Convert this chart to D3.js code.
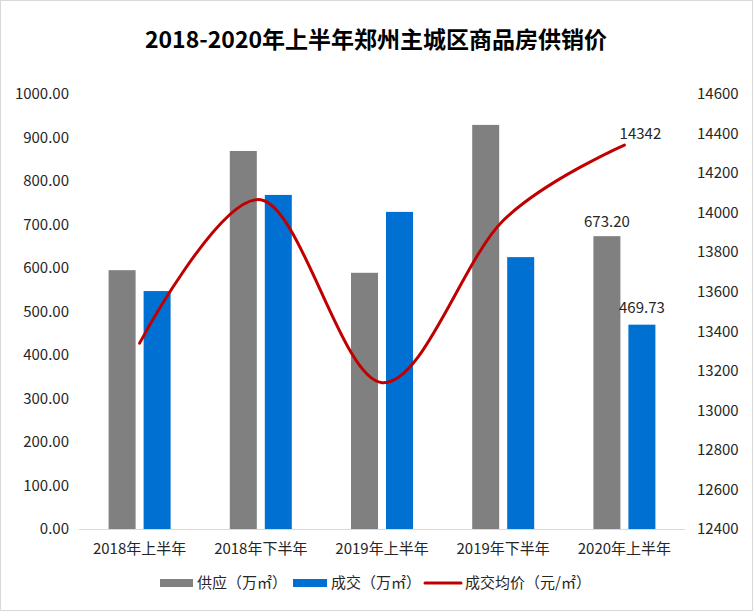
<!DOCTYPE html>
<html><head><meta charset="utf-8">
<script src="https://cdn.jsdelivr.net/npm/d3@7"></script>
<style>body{margin:0;background:#fff}svg{display:block}</style>
</head><body>
<script>
const categories = ["2018年上半年","2018年下半年","2019年上半年","2019年下半年","2020年上半年"];
const supply = [595, 869, 589, 929, 673.20];
const deals = [547, 768, 729, 625, 469.73];
const price = [13340, 14065, 13140, 13960, 14342];
const leftTicks = [0,100,200,300,400,500,600,700,800,900,1000];
const rightTicks = [12400,12600,12800,13000,13200,13400,13600,13800,14000,14200,14400,14600];
const seriesNames = ["供应（万㎡）","成交（万㎡）","成交均价（元/㎡）"];
const title = "2018-2020年上半年郑州主城区商品房供销价";

const W=753,H=611;
const font = "'Noto Sans CJK SC','Noto Sans',sans-serif";
const fs = 15;
const svg = d3.select("body").append("svg").attr("width",W).attr("height",H);
svg.append("rect").attr("x",0.5).attr("y",0.5).attr("width",W-1).attr("height",H-1).attr("fill","#fff").attr("stroke","#d9d9d9");

const m={l:79,r:685,t:94,b:529};
const x = d3.scaleBand().domain(categories).range([m.l,m.r]);
const yL = d3.scaleLinear().domain([0,1000]).range([m.b,m.t]);
const yR = d3.scaleLinear().domain([12400,14600]).range([m.b,m.t]);
const barW=27, gap=8;

svg.append("text").attr("x",376).attr("y",48).attr("text-anchor","middle")
  .attr("font-family",font).attr("font-weight","bold").attr("font-size",23).attr("fill","#000").text(title);

svg.append("g").selectAll("text").data(leftTicks).join("text")
  .attr("x",69).attr("y",d=>yL(d)).attr("dy","0.35em").attr("text-anchor","end")
  .attr("font-family",font).attr("font-size",fs).attr("fill","#262626").text(d=>d.toFixed(2));
svg.append("g").selectAll("text").data(rightTicks).join("text")
  .attr("x",697).attr("y",d=>yR(d)).attr("dy","0.35em").attr("text-anchor","start")
  .attr("font-family",font).attr("font-size",fs).attr("fill","#262626").text(d=>d);

const cx = c => x(c)+x.bandwidth()/2;
svg.append("g").selectAll("rect").data(supply).join("rect")
  .attr("x",(d,i)=>cx(categories[i])-gap/2-barW).attr("width",barW)
  .attr("y",d=>yL(d)).attr("height",d=>yL(0)-yL(d)).attr("fill","#808080");
svg.append("g").selectAll("rect").data(deals).join("rect")
  .attr("x",(d,i)=>cx(categories[i])+gap/2).attr("width",barW)
  .attr("y",d=>yL(d)).attr("height",d=>yL(0)-yL(d)).attr("fill","#0070D2");

svg.append("line").attr("x1",m.l).attr("x2",m.r).attr("y1",m.b+0.5).attr("y2",m.b+0.5).attr("stroke","#d9d9d9").attr("stroke-width",1);

svg.append("g").selectAll("text").data(categories).join("text")
  .attr("x",d=>cx(d)).attr("y",549).attr("dy","0.35em").attr("text-anchor","middle")
  .attr("font-family",font).attr("font-size",fs).attr("fill","#262626").text(d=>d);

const line = d3.line().x((d,i)=>cx(categories[i])).y(d=>yR(d)).curve(d3.curveCatmullRom.alpha(0));
svg.append("path").datum(price).attr("d",line).attr("fill","none").attr("stroke","#C00000").attr("stroke-width",3).attr("stroke-linecap","round");

const n=categories.length-1;
svg.append("text").attr("x",cx(categories[n])-gap/2-barW/2).attr("y",yL(supply[n])-9)
  .attr("text-anchor","middle").attr("font-family",font).attr("font-size",fs).attr("fill","#262626").text(supply[n].toFixed(2));
svg.append("text").attr("x",cx(categories[n])+gap/2+barW/2).attr("y",yL(deals[n])-12)
  .attr("text-anchor","middle").attr("font-family",font).attr("font-size",fs).attr("fill","#262626").text(deals[n].toFixed(2));
svg.append("text").attr("x",cx(categories[n])+16).attr("y",yR(price[n])-6)
  .attr("text-anchor","middle").attr("font-family",font).attr("font-size",fs).attr("fill","#262626").text(price[n]);

const lg = svg.append("g").attr("font-family",font).attr("font-size",fs).attr("fill","#262626");
const ly=583;
lg.append("rect").attr("x",160).attr("y",ly-4).attr("width",33).attr("height",8).attr("fill","#808080");
lg.append("text").attr("x",197).attr("y",ly).attr("dy","0.35em").text(seriesNames[0]);
lg.append("rect").attr("x",293).attr("y",ly-4).attr("width",34).attr("height",8).attr("fill","#0070D2");
lg.append("text").attr("x",331).attr("y",ly).attr("dy","0.35em").text(seriesNames[1]);
lg.append("line").attr("x1",425).attr("x2",461).attr("y1",ly).attr("y2",ly).attr("stroke","#C00000").attr("stroke-width",3).attr("stroke-linecap","round");
lg.append("text").attr("x",465).attr("y",ly).attr("dy","0.35em").text(seriesNames[2]);
</script>
</body></html>
